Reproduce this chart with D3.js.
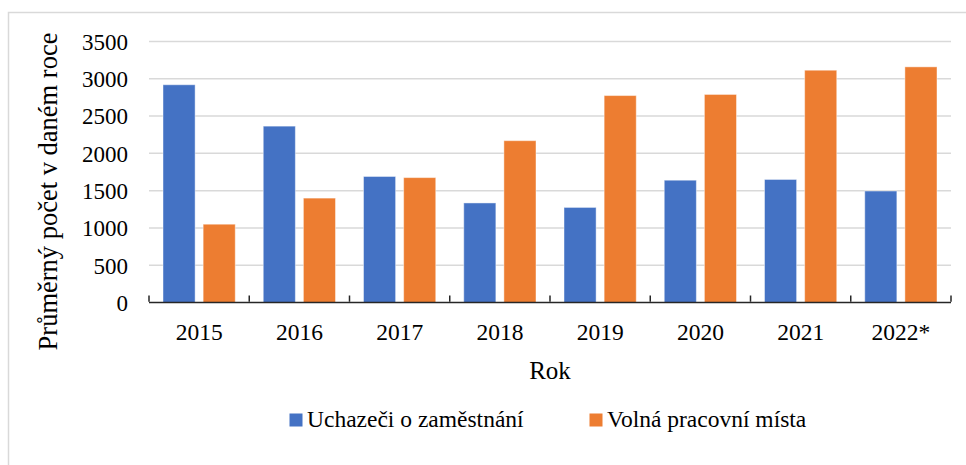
<!DOCTYPE html>
<html>
<head>
<meta charset="utf-8">
<script src="https://cdn.jsdelivr.net/npm/d3@7"></script>
<style>
  body { margin: 0; background: #fff; }
  text { font-family: "Liberation Serif", "Times New Roman", serif; fill: #000; }
</style>
</head>
<body>
<svg id="chart" width="966" height="465"></svg>
<script>
const years = ['2015', '2016', '2017', '2018', '2019', '2020', '2021', '2022*']
const seriesNames = ['Uchazeči o zaměstnání', 'Volná pracovní místa']
const uchazeci = [2920, 2365, 1690, 1335, 1275, 1640, 1650, 1495]
const volnaMista = [1050, 1400, 1675, 2170, 2775, 2790, 3115, 3160]
const yTicks = [0, 500, 1000, 1500, 2000, 2500, 3000, 3500]
const colors = ['#4472C4', '#ED7D31']

const svg = d3.select('#chart')
const margin = { left: 149, right: 15, top: 41.5, bottom: 162.5 }
const width = 966
const height = 465
const plotW = width - margin.left - margin.right
const plotH = height - margin.top - margin.bottom

// rámeček grafu (pravý a spodní okraj mimo obrázek)
svg.append('rect')
  .attr('x', 8.5).attr('y', 12.5)
  .attr('width', 980).attr('height', 480)
  .attr('fill', 'none')
  .attr('stroke', '#d9d9d9')
  .attr('stroke-width', 1.5)

const g = svg.append('g').attr('transform', `translate(${margin.left},${margin.top})`)

const x0 = d3.scaleBand().domain(years).range([0, plotW]).paddingInner(0).paddingOuter(0)
const x1 = d3.scaleBand().domain([0, 1]).range([14, x0.bandwidth() - 14]).paddingInner(0.2)
const y = d3.scaleLinear().domain([0, 3500]).range([plotH, 0])

// mřížka
g.append('g')
  .selectAll('line')
  .data(yTicks.slice(1))
  .enter()
  .append('line')
  .attr('x1', 0).attr('x2', plotW)
  .attr('y1', d => y(d)).attr('y2', d => y(d))
  .attr('stroke', '#d9d9d9')
  .attr('stroke-width', 1.5)

// osa y – jen popisky
const yAxis = g.append('g')
  .call(d3.axisLeft(y).tickValues(yTicks).tickFormat(d3.format('d')).tickSize(0).tickPadding(21))
yAxis.select('.domain').remove()
yAxis.selectAll('text')
  .style('font-size', '23px')
  .attr('dy', '0.34em')

// sloupce
const data = years.map((yr, i) => ({ year: yr, values: [uchazeci[i], volnaMista[i]] }))
const groups = g.append('g')
  .selectAll('g')
  .data(data)
  .enter()
  .append('g')
  .attr('transform', d => `translate(${x0(d.year)},0)`)

groups.selectAll('rect')
  .data(d => d.values)
  .enter()
  .append('rect')
  .attr('x', (d, i) => x1(i))
  .attr('width', x1.bandwidth())
  .attr('y', d => y(d))
  .attr('height', d => y(0) - y(d))
  .attr('fill', (d, i) => colors[i])
  .attr('stroke', '#fff')
  .attr('stroke-opacity', 0.45)
  .attr('stroke-width', 1)

// osa x
const ticks = d3.range(years.length + 1).map(i => i * x0.step())
g.append('line')
  .attr('x1', 0).attr('x2', plotW)
  .attr('y1', plotH).attr('y2', plotH)
  .attr('stroke', '#262626')
  .attr('stroke-width', 1.5)
g.append('g')
  .selectAll('line')
  .data(ticks)
  .enter()
  .append('line')
  .attr('x1', d => d).attr('x2', d => d)
  .attr('y1', plotH - 0.75).attr('y2', plotH - 7)
  .attr('stroke', '#262626')
  .attr('stroke-width', 1.5)

g.append('g')
  .selectAll('text')
  .data(years)
  .enter()
  .append('text')
  .attr('x', d => x0(d) + x0.bandwidth() / 2)
  .attr('y', 340 - margin.top)
  .attr('text-anchor', 'middle')
  .style('font-size', '23.5px')
  .text(d => d)

// názvy os
svg.append('text')
  .attr('x', margin.left + plotW / 2)
  .attr('y', 379)
  .attr('text-anchor', 'middle')
  .style('font-size', '25px')
  .text('Rok')

svg.append('text')
  .attr('transform', 'translate(57,191.5) rotate(-90)')
  .attr('text-anchor', 'middle')
  .style('font-size', '26.5px')
  .text('Průměrný počet v daném roce')

// legenda
const legendX = [289.5, 589.5]
const legend = svg.append('g')
  .selectAll('g')
  .data(seriesNames)
  .enter()
  .append('g')
  .attr('transform', (d, i) => `translate(${legendX[i]},413.5)`)
legend.append('rect')
  .attr('width', 13).attr('height', 13)
  .attr('fill', (d, i) => colors[i])
legend.append('text')
  .attr('x', 17.5)
  .attr('y', 13)
  .style('font-size', '23.5px')
  .text(d => d)
</script>
</body>
</html>
